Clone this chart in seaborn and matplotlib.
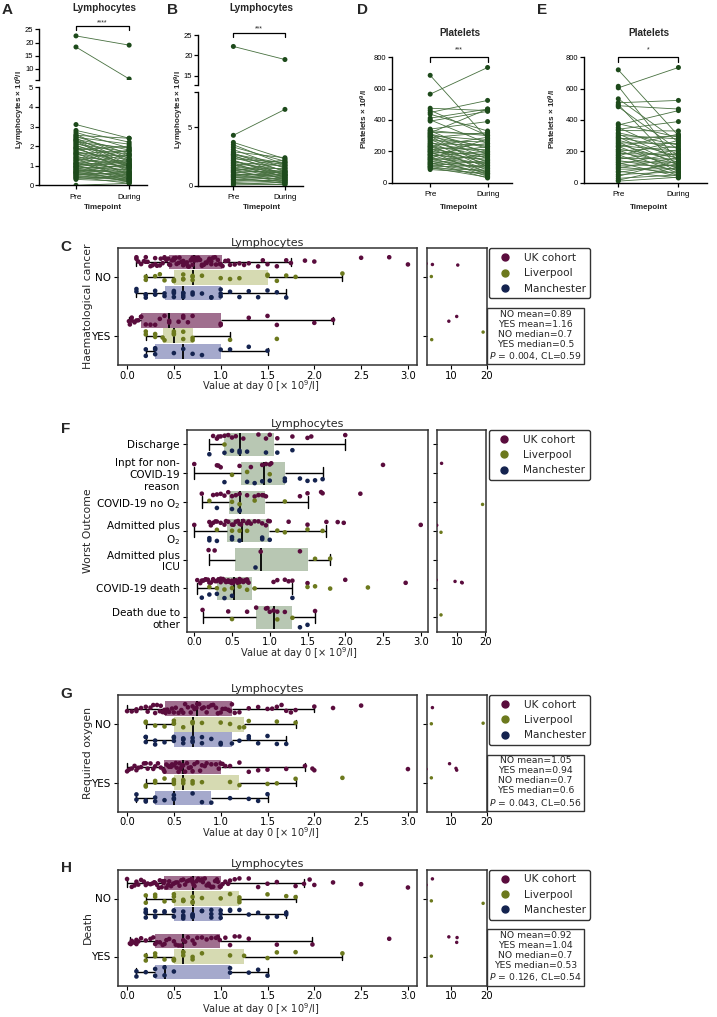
import matplotlib
matplotlib.use("Agg")
import matplotlib.pyplot as plt
from matplotlib.lines import Line2D
import numpy as np
import pandas as pd
import seaborn as sns

# ---------------- paired data (A, B lymphocytes; D, E platelets) ----------------
A_pre = [3.10, 2.80, 2.70, 2.55, 2.50, 2.45, 2.40, 2.35, 2.30, 2.25, 2.20, 2.15, 2.10, 2.05,
         2.00, 1.95, 1.90, 1.85, 1.80, 1.75, 1.70, 1.65, 1.60, 1.55, 1.50, 1.45, 1.40, 1.38,
         1.32, 1.28, 1.25, 1.20, 1.15, 1.12, 1.08, 1.05, 1.00, 0.97, 0.93, 0.90, 0.86, 0.82,
         0.80, 0.76, 0.72, 0.70, 0.66, 0.62, 0.60, 0.56, 0.52, 0.50, 0.45, 0.42, 0.38, 0.35,
         0.30, 0.00, 1.62, 1.90, 2.30, 1.10, 0.95, 2.60, 0.65, 22.5, 18.3]
A_during = [2.40, 2.20, 1.90, 2.40, 1.60, 2.10, 1.20, 1.80, 1.50, 0.90, 1.90, 1.30, 1.70, 1.00,
            1.40, 0.70, 1.60, 1.10, 2.00, 0.80, 1.30, 0.50, 1.00, 1.50, 0.60, 1.20, 0.90, 0.30,
            1.10, 0.70, 1.80, 0.40, 1.00, 0.60, 0.90, 0.20, 1.30, 0.50, 0.80, 0.35, 1.00, 0.60,
            0.15, 0.70, 0.45, 1.10, 0.30, 0.55, 0.20, 0.40, 0.65, 0.25, 0.35, 0.10, 0.30, 0.50,
            0.20, 0.10, 1.75, 0.95, 1.05, 1.55, 1.20, 1.35, 0.85, 19.0, 6.2]

B_pre = [3.70, 3.50, 3.30, 3.10, 2.90, 2.80, 2.70, 2.60, 2.50, 2.40, 2.30, 2.20, 2.10, 2.00,
         1.95, 1.90, 1.80, 1.75, 1.70, 1.60, 1.55, 1.50, 1.40, 1.35, 1.30, 1.20, 1.15, 1.10,
         1.00, 0.95, 0.90, 0.80, 0.75, 0.70, 0.60, 0.55, 0.50, 0.40, 0.30, 0.20, 0.10, 2.65,
         1.25, 0.85, 2.15, 4.30, 22.2]
B_during = [2.30, 1.80, 2.10, 1.50, 2.40, 1.20, 1.90, 0.90, 1.60, 1.30, 2.00, 0.70, 1.10, 1.70,
            0.50, 1.40, 1.00, 0.80, 2.20, 1.20, 0.60, 0.90, 1.50, 0.40, 1.10, 0.70, 1.30, 0.30,
            0.80, 1.00, 0.50, 0.60, 0.20, 0.90, 0.40, 0.70, 0.30, 0.50, 0.10, 0.30, 0.15, 1.75,
            2.00, 1.20, 0.95, 6.50, 19.0]

D_pre = [685, 565, 475, 462, 448, 437, 412, 401, 393, 342, 333, 331, 322, 318, 311, 309, 301,
         298, 292, 288, 281, 276, 268, 262, 254, 249, 243, 238, 232, 229, 224, 218, 213, 208,
         203, 198, 196, 189, 183, 178, 176, 169, 163, 158, 154, 148, 146, 139, 133, 128, 124,
         118, 116, 109, 104, 101, 96, 91, 84]
D_during = [280, 735, 460, 300, 525, 330, 470, 250, 455, 390, 300, 180, 310, 470, 220, 150, 270,
            100, 230, 320, 200, 130, 260, 90, 190, 240, 60, 170, 290, 120, 210, 80, 160, 250,
            140, 50, 180, 110, 230, 70, 150, 200, 40, 120, 280, 90, 170, 60, 130, 30, 100, 190,
            70, 140, 50, 110, 35, 80, 60]

E_pre = [720, 615, 605, 535, 510, 498, 491, 484, 376, 368, 352, 341, 333, 318, 311, 302, 293,
         287, 279, 271, 262, 254, 247, 238, 231, 226, 214, 209, 201, 194, 186, 178, 172, 163,
         157, 149, 142, 133, 127, 118, 112, 102, 94, 86, 73, 66, 52, 41, 28, 16, 10]
E_during = [300, 130, 735, 260, 525, 100, 470, 210, 290, 460, 180, 390, 330, 240, 150, 280, 110,
            220, 300, 170, 70, 250, 130, 200, 90, 310, 160, 60, 230, 120, 180, 45, 270, 100,
            150, 210, 80, 130, 40, 190, 110, 60, 160, 90, 30, 120, 70, 140, 50, 100, 35]

# ---------------- cohort data, lymphocytes at day 0 ----------------
COHORTS = ["UK cohort", "Liverpool", "Manchester"]

# C: haematological cancer
C_uk_no = [0.10, 0.10, 0.12, 0.15, 0.18, 0.20, 0.20, 0.22, 0.25, 0.27, 0.30, 0.30, 0.32, 0.35,
           0.36, 0.38, 0.40, 0.40, 0.42, 0.44, 0.45, 0.46, 0.48, 0.50, 0.50, 0.52, 0.53, 0.55,
           0.56, 0.58, 0.60, 0.60, 0.61, 0.62, 0.64, 0.65, 0.66, 0.68, 0.69, 0.70, 0.70, 0.72,
           0.73, 0.75, 0.76, 0.78, 0.80, 0.80, 0.82, 0.84, 0.85, 0.87, 0.88, 0.90, 0.90, 0.92,
           0.94, 0.95, 0.97, 0.99, 1.00, 1.02, 1.05, 1.08, 1.10, 1.15, 1.20, 1.25, 1.30, 1.40,
           1.45, 1.50, 1.60, 1.70, 1.75, 1.90, 2.00, 2.50, 2.80, 3.00, 4.80, 11.90]
C_liv_no = [0.20, 0.20, 0.30, 0.35, 0.40, 0.50, 0.50, 0.50, 0.60, 0.60, 0.60, 0.70, 0.70, 0.70,
            0.80, 1.00, 1.10, 1.20, 1.50, 1.50, 1.60, 1.70, 1.80, 2.30, 4.50]
C_man_no = [0.10, 0.10, 0.20, 0.20, 0.20, 0.30, 0.30, 0.30, 0.40, 0.40, 0.50, 0.50, 0.50, 0.50,
            0.60, 0.60, 0.60, 0.60, 0.70, 0.70, 0.80, 0.90, 0.90, 1.00, 1.00, 1.00, 1.10, 1.20,
            1.30, 1.40, 1.50, 1.60, 1.70]
C_uk_yes = [0.02, 0.03, 0.05, 0.05, 0.08, 0.10, 0.12, 0.15, 0.15, 0.20, 0.25, 0.30, 0.35, 0.40,
            0.45, 0.45, 0.55, 0.60, 0.60, 0.65, 0.70, 1.00, 1.00, 1.30, 1.50, 1.60, 2.00, 2.20,
            9.40, 11.60]
C_liv_yes = [0.20, 0.20, 0.30, 0.30, 0.38, 0.40, 0.50, 0.50, 0.50, 0.60, 0.60, 0.70, 0.70, 1.10,
             1.60, 4.60, 19.0]
C_man_yes = [0.20, 0.20, 0.30, 0.30, 0.30, 0.50, 0.60, 0.70, 0.80, 1.00, 1.10, 1.30, 1.50]

# F: worst outcome
F_outcomes = ["Discharge", "Inpt for non-\nCOVID-19\nreason", "COVID-19 no O$_2$",
              "Admitted plus\nO$_2$", "Admitted plus\nICU", "COVID-19 death",
              "Death due to\nother"]
F_uk = [
    [0.25, 0.30, 0.32, 0.35, 0.40, 0.45, 0.50, 0.55, 0.65, 0.85, 0.95, 1.00, 1.10, 1.30, 1.50,
     1.55, 2.00],
    [0.00, 0.30, 0.32, 0.35, 0.60, 0.75, 0.90, 0.95, 1.00, 1.02, 2.50, 4.70],
    [0.10, 0.25, 0.30, 0.35, 0.40, 0.45, 0.50, 0.55, 0.60, 0.70, 0.80, 0.85, 0.90, 0.92, 0.95,
     1.40, 1.50, 1.68, 1.70, 2.20],
    [0.00, 0.20, 0.22, 0.25, 0.28, 0.30, 0.35, 0.40, 0.42, 0.45, 0.50, 0.52, 0.55, 0.58, 0.60,
     0.62, 0.65, 0.70, 0.72, 0.75, 0.80, 0.85, 0.90, 0.95, 0.98, 1.00, 1.25, 1.50, 1.75, 1.90,
     1.98, 3.00],
    [0.19, 0.27, 0.88, 1.40],
    [0.04, 0.08, 0.10, 0.12, 0.15, 0.15, 0.18, 0.20, 0.22, 0.25, 0.25, 0.28, 0.30, 0.32, 0.35,
     0.35, 0.38, 0.40, 0.42, 0.45, 0.45, 0.48, 0.50, 0.50, 0.52, 0.55, 0.55, 0.58, 0.60, 0.60,
     0.62, 0.62, 0.65, 0.65, 0.68, 0.70, 0.70, 0.70, 0.72, 1.05, 1.10, 1.20, 1.25, 1.30, 1.50,
     2.00, 2.80, 9.40, 11.70, 11.90],
    [0.11, 0.45, 0.70, 0.82, 0.95, 0.97, 1.00, 1.05, 1.10, 1.20, 1.60],
]
F_liv = [
    [0.40],
    [0.50, 0.70, 1.00],
    [0.20, 0.50, 0.60, 0.80, 1.20, 19.0],
    [0.30, 0.50, 0.60, 0.70, 1.10, 1.20, 1.50, 1.70, 4.50],
    [1.60, 1.80],
    [0.20, 0.30, 0.40, 0.50, 0.60, 0.70, 0.80, 1.50, 1.60, 1.80, 2.30],
    [0.50, 1.10, 1.30, 4.50],
]
F_man = [
    [0.20, 0.40, 0.50, 0.60, 0.60, 0.70, 0.95, 1.10, 1.30],
    [0.40, 0.70, 0.80, 0.90, 1.00, 1.20, 1.20, 1.40, 1.50, 1.60, 1.70],
    [0.30, 0.50, 0.60, 0.60],
    [0.20, 0.20, 0.30, 0.50, 0.50, 0.60, 0.90, 0.90, 1.00],
    [0.80],
    [0.10, 0.20, 0.30, 0.40, 0.50, 1.30],
    [1.40, 1.50],
]

# G: required oxygen
G_uk_no = [0.00, 0.05, 0.10, 0.10, 0.15, 0.20, 0.22, 0.25, 0.28, 0.30, 0.32, 0.35, 0.36, 0.38,
           0.40, 0.41, 0.43, 0.45, 0.48, 0.50, 0.52, 0.55, 0.58, 0.60, 0.62, 0.65, 0.68, 0.70,
           0.72, 0.74, 0.75, 0.77, 0.80, 0.82, 0.85, 0.87, 0.90, 0.92, 0.95, 0.97, 1.00, 1.02,
           1.05, 1.08, 1.10, 1.12, 1.15, 1.20, 1.30, 1.40, 1.50, 1.55, 1.60, 1.65, 1.70, 1.75,
           1.80, 2.00, 2.20, 2.50, 4.80]
G_liv_no = [0.20, 0.20, 0.30, 0.40, 0.50, 0.50, 0.50, 0.60, 0.70, 0.70, 0.70, 0.80, 1.00, 1.10,
            1.20, 1.25, 1.30, 1.60, 1.80, 4.50, 19.0]
G_man_no = [0.20, 0.20, 0.20, 0.30, 0.30, 0.40, 0.50, 0.50, 0.50, 0.60, 0.60, 0.60, 0.60, 0.70,
            0.70, 0.70, 0.80, 0.80, 0.90, 1.00, 1.00, 1.12, 1.20, 1.30, 1.30, 1.40, 1.50, 1.60,
            1.70]
G_uk_yes = [0.00, 0.02, 0.05, 0.08, 0.10, 0.12, 0.15, 0.18, 0.20, 0.22, 0.25, 0.28, 0.30, 0.33,
            0.36, 0.39, 0.40, 0.42, 0.44, 0.45, 0.47, 0.48, 0.50, 0.52, 0.53, 0.55, 0.56, 0.57,
            0.58, 0.59, 0.60, 0.62, 0.64, 0.66, 0.68, 0.70, 0.72, 0.75, 0.78, 0.80, 0.83, 0.85,
            0.90, 0.95, 0.98, 1.00, 1.02, 1.05, 1.10, 1.20, 1.30, 1.40, 1.50, 1.70, 1.90, 1.98,
            2.00, 3.00, 9.60, 11.40, 11.60]
G_liv_yes = [0.20, 0.20, 0.30, 0.30, 0.40, 0.50, 0.50, 0.50, 0.60, 0.60, 0.60, 0.70, 0.70, 0.80,
             1.10, 1.20, 1.50, 1.60, 1.80, 2.30, 4.50]
G_man_yes = [0.10, 0.10, 0.20, 0.20, 0.30, 0.30, 0.40, 0.50, 0.50, 0.50, 0.70, 0.80, 0.90, 1.10,
             1.30, 1.40, 1.50]

# H: death
H_uk_no = [0.00, 0.05, 0.08, 0.10, 0.12, 0.15, 0.18, 0.20, 0.22, 0.25, 0.27, 0.29, 0.30, 0.32,
           0.34, 0.35, 0.37, 0.38, 0.39, 0.40, 0.42, 0.44, 0.45, 0.47, 0.49, 0.50, 0.52, 0.54,
           0.56, 0.58, 0.60, 0.62, 0.64, 0.66, 0.68, 0.69, 0.70, 0.71, 0.72, 0.74, 0.76, 0.78,
           0.80, 0.81, 0.83, 0.85, 0.87, 0.88, 0.90, 0.92, 0.94, 0.96, 0.97, 0.99, 1.00, 1.02,
           1.05, 1.08, 1.10, 1.15, 1.20, 1.30, 1.40, 1.50, 1.60, 1.80, 1.89, 1.95, 2.00, 2.20,
           2.50, 3.00, 4.80]
H_liv_no = [0.20, 0.20, 0.30, 0.30, 0.40, 0.50, 0.50, 0.50, 0.60, 0.60, 0.60, 0.70, 0.70, 0.70,
            0.80, 1.00, 1.10, 1.20, 1.20, 1.20, 1.50, 1.70, 1.80, 4.50, 19.0]
H_man_no = [0.20, 0.20, 0.20, 0.20, 0.30, 0.30, 0.30, 0.40, 0.40, 0.50, 0.50, 0.50, 0.60, 0.60,
            0.60, 0.60, 0.70, 0.70, 0.70, 0.70, 0.80, 0.80, 0.90, 0.90, 0.90, 1.00, 1.00, 1.00,
            1.10, 1.10, 1.20, 1.30, 1.40, 1.50, 1.60, 1.70, 1.70]
H_uk_yes = [0.03, 0.04, 0.05, 0.08, 0.10, 0.10, 0.12, 0.15, 0.20, 0.25, 0.28, 0.30, 0.32, 0.35,
            0.38, 0.40, 0.42, 0.45, 0.50, 0.52, 0.55, 0.58, 0.60, 0.62, 0.65, 0.70, 0.72, 0.75,
            0.80, 0.85, 0.90, 0.95, 0.97, 0.99, 1.05, 1.10, 1.15, 1.20, 1.30, 1.60, 1.98, 2.80,
            9.40, 11.60, 11.70]
H_liv_yes = [0.20, 0.20, 0.30, 0.30, 0.40, 0.50, 0.50, 0.50, 0.60, 0.60, 0.60, 0.70, 0.70, 0.80,
             1.10, 1.25, 1.50, 1.60, 1.80, 2.30, 4.50]
H_man_yes = [0.10, 0.10, 0.20, 0.30, 0.30, 0.40, 0.40, 0.50, 1.10, 1.10, 1.30, 1.40, 1.50]

C_stats = "NO mean=0.89\nYES mean=1.16\nNO median=0.7\nYES median=0.5\n$\\mathit{P}$ = 0.004, CL=0.59"
G_stats = "NO mean=1.05\nYES mean=0.94\nNO median=0.7\nYES median=0.6\n$\\mathit{P}$ = 0.043, CL=0.56"
H_stats = "NO mean=0.92\nYES mean=1.04\nNO median=0.7\nYES median=0.53\n$\\mathit{P}$ = 0.126, CL=0.54"

# ---------------- styling ----------------
W, H = 717, 1017
ARIAL = "Liberation Sans"
DOT_GREEN = "#1d4a1b"
LINE_GREEN = "#47703f"
DOT_COLORS = dict(zip(COHORTS, ["#5a0c3d", "#6c791d", "#14234f"]))
BOX_COLORS = dict(zip(COHORTS, ["#a06f8f", "#d6dab2", "#a5a9cc"]))
F_BOX = "#b8c7b3"
EDGE = "#333333"

sns.set_style("ticks")
plt.rcParams["font.family"] = ["DejaVu Sans"]
plt.rcParams["mathtext.default"] = "regular"
np.random.seed(11)

fig = plt.figure(figsize=(W / 100, H / 100), dpi=100)


def px_axes(x0, y0, x1, y1):
    return fig.add_axes([x0 / W, 1 - y1 / H, (x1 - x0) / W, (y1 - y0) / H])


def ftext(x, y, s, **kw):
    return fig.text(x / W, 1 - y / H, s, **kw)


def paired_frame(pre, during):
    n = len(pre)
    return pd.DataFrame({"subject": list(range(n)) * 2,
                         "x": [0] * n + [1] * n,
                         "value": list(pre) + list(during)})


def draw_pairs(ax, df, xlim, ylim, yticks, yticklabels, lower=True):
    sns.lineplot(data=df, x="x", y="value", units="subject", estimator=None,
                 color=LINE_GREEN, linewidth=0.6, ax=ax, legend=False)
    sns.scatterplot(data=df, x="x", y="value", color=DOT_GREEN, s=13,
                    edgecolor="none", ax=ax, legend=False, zorder=3)
    ax.set_xlim(*xlim)
    ax.set_ylim(*ylim)
    ax.set_xlabel("")
    ax.set_ylabel("")
    ax.set_yticks(yticks, yticklabels)
    sns.despine(ax=ax)
    ax.tick_params(labelsize=5.5, length=3, width=0.9, pad=1.2, colors="black",
                   labelfontfamily=ARIAL)
    for s in ax.spines.values():
        s.set_linewidth(1.0)
        s.set_color("black")
    if lower:
        ax.set_xticks([0, 1], ["Pre", "During"])
        ax.tick_params(axis="x", pad=3, labelsize=5.8)
    else:
        ax.spines["bottom"].set_visible(False)
        ax.set_xticks([])


def bracket(ax, y_top, y_foot, y_star, stars):
    ax.plot([0, 0, 1, 1], [y_foot, y_top, y_top, y_foot], color="black", lw=0.9,
            clip_on=False)
    ax.text(0.5, y_star, stars, ha="center", va="center", fontsize=5, family=ARIAL)


# ---- A ----
dfA = paired_frame(A_pre, A_during)
A_up = px_axes(39.3, 29.3, 146.7, 80)
A_lo = px_axes(39.3, 87.3, 146.7, 185.3)
draw_pairs(A_up, dfA, (-0.69, 1.33), (5.8, 25), [5.8, 10, 15, 20, 25], ["", "10", "15", "20", "25"], lower=False)
draw_pairs(A_lo, dfA, (-0.69, 1.33), (0, 5), [0, 1, 2, 3, 4, 5], ["0", "1", "2", "3", "4", "5"])
bracket(A_up, 26.4, 24.6, 27.6, "****")

# ---- B ----
dfB = paired_frame(B_pre, B_during)
B_up = px_axes(198.3, 35, 303, 85.3)
B_lo = px_axes(198.3, 91.7, 303, 186)
draw_pairs(B_up, dfB, (-0.68, 1.35), (12.7, 25), [12.7, 15, 20, 25], ["", "15", "20", "25"], lower=False)
draw_pairs(B_lo, dfB, (-0.68, 1.35), (0, 8), [0, 5, 8], ["0", "5", ""])
bracket(B_up, 25.4, 24.6, 26.5, "***")

# ---- D, E ----
dfD = paired_frame(D_pre, D_during)
D_ax = px_axes(392.3, 57.3, 511.7, 182.7)
draw_pairs(D_ax, dfD, (-0.66, 1.42), (0, 800), [0, 200, 400, 600, 800], ["0", "200", "400", "600", "800"])
bracket(D_ax, 800, 772, 846, "***")

dfE = paired_frame(E_pre, E_during)
E_ax = px_axes(584, 57.3, 706.7, 182.7)
draw_pairs(E_ax, dfE, (-0.57, 1.47), (0, 800), [0, 200, 400, 600, 800], ["0", "200", "400", "600", "800"])
bracket(E_ax, 800, 772, 846, "*")

bold6 = dict(fontsize=5.8, fontweight="bold", family=ARIAL, ha="center", va="center")
for x, y, s in [(104.5, 8.3, "Lymphocytes"), (261.7, 8.3, "Lymphocytes"),
                (460, 32.7, "Platelets"), (649.3, 32.7, "Platelets")]:
    ftext(x, y, s, fontsize=7.2, fontweight="bold", family=ARIAL, ha="center", va="center")
for x in (103, 261.7, 459.3, 649):
    ftext(x, 207.5, "Timepoint", **bold6)
ftext(20.5, 110, "Lymphocytes × 10$^9$/l", rotation=90, **bold6)
ftext(179, 110, "Lymphocytes × 10$^9$/l", rotation=90, **bold6)
ftext(364, 119, "Platelets × 10$^9$/l", rotation=90, **bold6)
ftext(552.5, 119, "Platelets × 10$^9$/l", rotation=90, **bold6)

letter = dict(fontsize=11, fontweight="bold", family=ARIAL, ha="center", va="center")
for x, y, s in [(7, 10, "A"), (173, 10, "B"), (362, 10, "D"), (541.7, 10, "E")]:
    ftext(x, y, s, **letter)


# ---------------- cohort panels ----------------
def cohort_frame(rows):
    recs = [(g, c, v) for g, c, values in rows for v in values]
    return pd.DataFrame(recs, columns=["group", "cohort", "value"])


def frame_axes(ax):
    for s in ax.spines.values():
        s.set_visible(True)
        s.set_linewidth(1.1)
        s.set_color(EDGE)
    ax.tick_params(length=3, width=0.8, labelsize=7.5, pad=2, colors="black")
    ax.tick_params(axis="x", labelsize=7.2, pad=1.0)
    ax.set_xlabel("")
    ax.set_ylabel("")


def cohort_panel(df, order, top, bottom, main_x, side_x, side_xlim, by_cohort,
                 ylabel, xlabel_x, letter_s, stats=None, xlabel_y=None):
    ax = px_axes(main_x[0], top, main_x[1], bottom)
    side = px_axes(side_x[0], top, side_x[1], bottom)
    common = dict(data=df, x="value", y="group", order=order, orient="h")
    box_kw = dict(saturation=1, width=0.8, whis=1.5, showfliers=False, linecolor="black",
                  linewidth=1.0, boxprops=dict(edgecolor="none"),
                  medianprops=dict(linewidth=1.3), ax=ax)
    if by_cohort:
        sns.boxplot(**common, hue="cohort", hue_order=COHORTS, palette=BOX_COLORS,
                    gap=0.05, legend=False, **box_kw)
    else:
        sns.boxplot(**common, color=F_BOX, **box_kw)
    strip_kw = dict(hue="cohort", hue_order=COHORTS, palette=DOT_COLORS, dodge=True,
                    jitter=0.25, linewidth=0, legend=False)
    sns.stripplot(**common, **strip_kw, size=3.3, ax=ax, zorder=3)
    sns.stripplot(**common, **strip_kw, size=2.5, ax=side, zorder=3)

    ax.set_xlim(-0.1, 3.1)
    ax.set_xticks([0, 0.5, 1.0, 1.5, 2.0, 2.5, 3.0])
    side.set_xlim(*side_xlim)
    side.set_xticks([10, 20])
    side.set_ylim(ax.get_ylim())
    side.set_yticklabels([])
    frame_axes(ax)
    frame_axes(side)
    ax.set_title("Lymphocytes", fontsize=8, pad=2)

    ycen = (top + bottom) / 2
    ftext(88.3, ycen, ylabel, rotation=90, fontsize=7.8, ha="center", va="center")
    if xlabel_y is None:
        xlabel_y = bottom + 21.5
    ftext(xlabel_x, xlabel_y, "Value at day 0 [× 10$^9$/l]", fontsize=7.0,
          ha="center", va="center")
    ftext(66, top - 1.5, letter_s, **letter)

    handles = [Line2D([], [], marker="o", ls="", color=DOT_COLORS[c], markersize=5)
               for c in COHORTS]
    leg = fig.legend(handles, COHORTS, loc="upper left",
                     bbox_to_anchor=((side_x[1] + 2.6) / W, 1 - top / H),
                     borderaxespad=0, fontsize=7.6, frameon=True, handletextpad=0.8,
                     labelspacing=0.5, borderpad=0.45, framealpha=1)
    leg.get_frame().set_edgecolor(EDGE)
    leg.get_frame().set_linewidth(1.0)
    if stats:
        ftext(535.5, top + 87.5, stats, ha="center", va="center", fontsize=6.7,
              linespacing=1.15,
              bbox=dict(boxstyle="square,pad=0.25", fc="white", ec=EDGE, lw=1.0))
    return ax


def rows(g, lists):
    return [(g, c, v) for c, v in zip(COHORTS, lists)]


dfC = cohort_frame(rows("NO", [C_uk_no, C_liv_no, C_man_no]) +
                   rows("YES", [C_uk_yes, C_liv_yes, C_man_yes]))
cohort_panel(dfC, ["NO", "YES"], 248.3, 365, (117.7, 417.3), (426.7, 486.7), (3.2, 20),
             True, "Haematological cancer", 260.3, "C", C_stats)

F_rows = []
for i, outcome in enumerate(F_outcomes):
    F_rows += rows(outcome, [F_uk[i], F_liv[i], F_man[i]])
dfF = cohort_frame(F_rows)
cohort_panel(dfF, F_outcomes, 430, 631.7, (186.7, 428.3), (436.7, 486), (3.0, 20.2),
             False, "Worst Outcome", 298.3, "F")

dfG = cohort_frame(rows("NO", [G_uk_no, G_liv_no, G_man_no]) +
                   rows("YES", [G_uk_yes, G_liv_yes, G_man_yes]))
cohort_panel(dfG, ["NO", "YES"], 695, 811.7, (117.7, 417.3), (426.7, 486.7), (3.2, 20),
             True, "Required oxygen", 260.3, "G", G_stats)

dfH = cohort_frame(rows("NO", [H_uk_no, H_liv_no, H_man_no]) +
                   rows("YES", [H_uk_yes, H_liv_yes, H_man_yes]))
cohort_panel(dfH, ["NO", "YES"], 869.5, 985.5, (117.7, 417.3), (426.7, 486.7), (3.2, 20),
             True, "Death", 260.3, "H", H_stats, xlabel_y=1009.5)

fig.savefig("out.png", dpi=100)
